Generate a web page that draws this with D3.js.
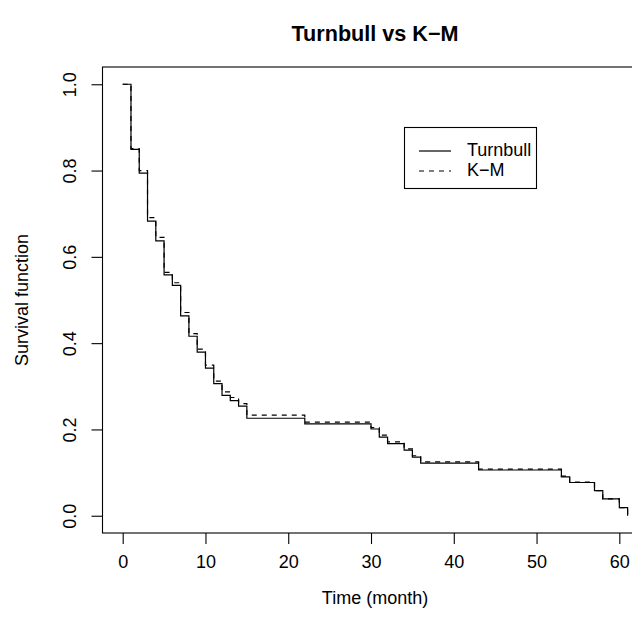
<!DOCTYPE html>
<html><head><meta charset="utf-8">
<script src="https://cdn.jsdelivr.net/npm/d3@7"></script>
<style>body{margin:0;background:#fff}svg{display:block}text{font-family:"Liberation Sans",Arial,sans-serif;fill:#000}</style>
</head><body>
<script>
const times = [0,1,2,3,4,5,6,7,8,9,10,11,12,13,14,15,22,30,31,32,34,35,36,43,53,54,57,58,60,61];
const turnbull = [1.0,0.849,0.794,0.683,0.637,0.558,0.534,0.463,0.416,0.379,0.342,0.306,0.279,0.267,0.254,0.226,0.213,0.201,0.182,0.167,0.152,0.136,0.122,0.106,0.090,0.077,0.058,0.039,0.019,0.0];
const km = [1.0,0.851,0.800,0.691,0.645,0.564,0.540,0.471,0.422,0.386,0.349,0.312,0.287,0.274,0.260,0.233,0.217,0.204,0.187,0.171,0.155,0.139,0.125,0.108,0.092,0.078,0.058,0.039,0.019,0.0];
const xTicks = [0,10,20,30,40,50,60];
const yTicks = [0,0.2,0.4,0.6,0.8,1.0];
const seriesNames = ["Turnbull","K\u2212M"];
const title = "Turnbull vs K\u2212M";
const xLabel = "Time (month)";
const yLabel = "Survival function";

const W=632,H=625;
const svg=d3.select("body").append("svg").attr("width",W).attr("height",H);
const x=d3.scaleLinear().domain([-2.44,63.44]).range([102.5,647.8]);
const y=d3.scaleLinear().domain([-0.04,1.04]).range([533,67]);

const line=d3.line().x(d=>x(d[0])).y(d=>y(d[1])).curve(d3.curveStepAfter);
const tData=times.map((t,i)=>[t,turnbull[i]]);
const kData=times.map((t,i)=>[t,km[i]]);

svg.append("path").attr("d",line(kData)).attr("fill","none").attr("stroke","#000").attr("stroke-width",1.2).attr("stroke-dasharray","5,5");
svg.append("path").attr("d",line(tData)).attr("fill","none").attr("stroke","#000").attr("stroke-width",1.2);

// box
svg.append("rect").attr("x",102.5).attr("y",67).attr("width",647.8-102.5).attr("height",533-67)
  .attr("fill","none").attr("stroke","#000").attr("stroke-width",1.1);

// axes
const gx=svg.append("g").attr("transform","translate(0,533)")
  .call(d3.axisBottom(x).tickValues(xTicks).tickFormat(d3.format("d")).tickSize(11).tickSizeOuter(0).tickPadding(11));
gx.select(".domain").remove();
gx.selectAll("text").attr("font-size",18).attr("font-family","Liberation Sans, Arial, sans-serif");
gx.selectAll("line").attr("stroke","#000").attr("stroke-width",1.1);

const gy=svg.append("g").attr("transform","translate(102.5,0)")
  .call(d3.axisLeft(y).tickValues(yTicks).tickFormat(d3.format(".1f")).tickSize(11).tickSizeOuter(0));
gy.select(".domain").remove();
gy.selectAll("line").attr("stroke","#000").attr("stroke-width",1.1);
gy.selectAll("text").attr("font-size",18).attr("font-family","Liberation Sans, Arial, sans-serif")
  .attr("x",0).attr("dy",null).attr("text-anchor","middle").attr("dominant-baseline","central")
  .attr("transform","translate(-33,0) rotate(-90)");

// titles
svg.append("text").attr("x",375).attr("y",33).attr("text-anchor","middle").attr("dominant-baseline","central")
  .attr("font-size",21.6).attr("font-weight","bold").text(title);
svg.append("text").attr("x",375).attr("y",598).attr("text-anchor","middle").attr("dominant-baseline","central")
  .attr("font-size",18).text(xLabel);
svg.append("text").attr("transform","translate(22,300) rotate(-90)").attr("text-anchor","middle").attr("dominant-baseline","central")
  .attr("font-size",18).text(yLabel);

// legend
const lg=svg.append("g");
lg.append("rect").attr("x",404.5).attr("y",127.5).attr("width",132).attr("height",61).attr("fill","#fff").attr("stroke","#000").attr("stroke-width",1.1);
const dashes=[null,"5,5"];
seriesNames.forEach((nm,i)=>{
  const yy=151+i*20;
  lg.append("line").attr("x1",419).attr("x2",451).attr("y1",yy).attr("y2",yy).attr("stroke","#000").attr("stroke-width",1.2).attr("stroke-dasharray",dashes[i]);
  lg.append("text").attr("x",467).attr("y",yy-1).attr("dominant-baseline","central").attr("font-size",18).text(nm);
});
</script>
</body></html>
